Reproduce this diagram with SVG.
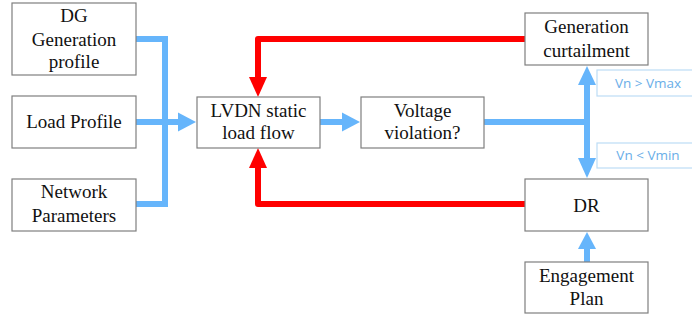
<svg xmlns="http://www.w3.org/2000/svg" width="692" height="320" viewBox="0 0 692 320">
<style>
.box{fill:#fff;stroke:#7f7f7f;stroke-width:1.2}
.t{font-family:"Liberation Serif","Times New Roman",serif;font-size:19px;fill:#111;text-anchor:middle}
.b{fill:none;stroke:#66b5fb;stroke-width:6;stroke-linecap:round;stroke-linejoin:miter}
.r{fill:none;stroke:#ff0000;stroke-width:6;stroke-linecap:round;stroke-linejoin:round}
.bh{fill:#66b5fb}
.rh{fill:#ff0000}
.lb{fill:#fff;stroke:#bcdcf6;stroke-width:1.2}
.lt{font-family:"Open Sans","Liberation Sans",sans-serif;font-size:13.5px;fill:#6aaee8;text-anchor:middle}
</style>
<rect width="692" height="320" fill="#fff"/>
<g id="connectors">
<path class="b" d="M134 39 H165 V204 H134"/>
<path class="b" d="M134 122 H180"/>
<path class="bh" d="M178 112.5 L196 122 L178 131.5 Z"/>
<path class="b" d="M319 122 H344"/>
<path class="bh" d="M342 112.5 L360 122 L342 131.5 Z"/>
<path class="b" d="M485 122 H587"/>
<path class="b" d="M587 84 V160"/>
<path class="bh" d="M578 85 L587 66 L596 85 Z"/>
<path class="bh" d="M578 158 L587 178 L596 158 Z"/>
<path class="b" d="M587 249 V262"/>
<path class="bh" d="M578 249 L587 232 L596 249 Z"/>
<path class="r" d="M526 39 H258 V79"/>
<path class="rh" d="M249 77 L258 97 L267 77 Z"/>
<path class="r" d="M526 204 H258 V166"/>
<path class="rh" d="M249 168 L258 148 L267 168 Z"/>
</g>
<g id="dg">
<rect class="box" x="12" y="3" width="124" height="72"/>
<text class="t" x="74" y="22">DG</text>
<text class="t" x="74" y="46">Generation</text>
<text class="t" x="74" y="68">profile</text>
</g>
<g id="load">
<rect class="box" x="12" y="96" width="124" height="52"/>
<text class="t" x="74" y="128">Load Profile</text>
</g>
<g id="network">
<rect class="box" x="12" y="179" width="124" height="52"/>
<text class="t" x="74" y="198">Network</text>
<text class="t" x="74" y="222">Parameters</text>
</g>
<g id="lvdn">
<rect class="box" x="197" y="97" width="123" height="51"/>
<text class="t" x="258.5" y="117">LVDN static</text>
<text class="t" x="258.5" y="139">load flow</text>
</g>
<g id="voltage">
<rect class="box" x="361" y="97" width="123" height="51"/>
<text class="t" x="422.5" y="117">Voltage</text>
<text class="t" x="422.5" y="139">violation?</text>
</g>
<g id="curtail">
<rect class="box" x="525" y="13" width="123" height="52"/>
<text class="t" x="586.5" y="33">Generation</text>
<text class="t" x="586.5" y="57">curtailment</text>
</g>
<g id="dr">
<rect class="box" x="525" y="179" width="123" height="52"/>
<text class="t" x="586.5" y="212">DR</text>
</g>
<g id="engagement">
<rect class="box" x="525" y="262" width="123" height="51"/>
<text class="t" x="586.5" y="282">Engagement</text>
<text class="t" x="586.5" y="305">Plan</text>
</g>
<g id="label-vmax">
<rect class="lb" x="597" y="70" width="100" height="26"/>
<text class="lt" x="648" y="87.5">Vn &gt; Vmax</text>
</g>
<g id="label-vmin">
<rect class="lb" x="597" y="143" width="100" height="25"/>
<text class="lt" x="648" y="159.5">Vn &lt; Vmin</text>
</g>
</svg>
